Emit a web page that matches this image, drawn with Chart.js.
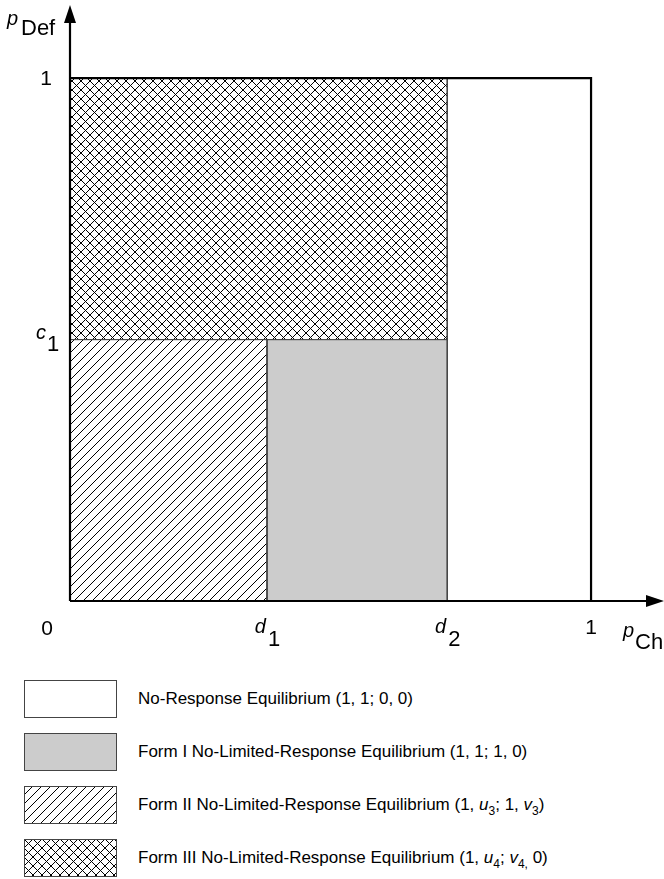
<!DOCTYPE html>
<html>
<head>
<title>Equilibrium regions</title>
<script src="https://cdn.jsdelivr.net/npm/chart.js"></script>
<style>
    body { margin: 0; background: #fff; font-family: "Liberation Sans", Arial, sans-serif; }
    #wrap { position: relative; width: 664px; height: 879px; }
    #legend .item { position: absolute; left: 24px; width: 600px; height: 38px; }
    #legend canvas { position: absolute; left: 0; top: 0; }
    #legend .text { position: absolute; left: 114px; top: 0; line-height: 38px; font-size: 17px; white-space: nowrap; color: #000; }
    #legend sub { font-size: 12px; vertical-align: -5px; line-height: 0; }
</style>
</head>
<body>
<div id="wrap">
    <canvas id="regionChart" width="664" height="660"></canvas>
    <div id="legend"></div>
</div>
<script>
    // boundaries
    const d1 = 0.378, d2 = 0.724, c1 = 0.5;
    const axisMax = 1.14;

    // regions: white, gray, hatched, cross-hatched
    const regionNames = ['No-Response', 'Form I', 'Form II', 'Form III'];
    const regionX0 = [0, d1, 0, 0];
    const regionX1 = [1, d2, d1, d2];
    const regionY0 = [0, 0, 0, c1];
    const regionY1 = [1, c1, c1, 1];
    const legendLabels = [
        'No-Response Equilibrium (1, 1; 0, 0)',
        'Form I No-Limited-Response Equilibrium (1, 1; 1, 0)',
        'Form II No-Limited-Response Equilibrium (1, <i>u</i><sub>3</sub>; 1, <i>v</i><sub>3</sub>)',
        'Form III No-Limited-Response Equilibrium (1, <i>u</i><sub>4</sub>; <i>v</i><sub>4,</sub> 0)'
    ];

    // tick labels
    const xTickValues = [d1, d2, 1];
    const xTickText = ['d', 'd', '1'];
    const xTickSub = ['1', '2', ''];
    const yTickValues = [c1, 1];
    const yTickText = ['c', '1'];
    const yTickSub = ['1', ''];
    const originLabel = '0';
    const xTitle = ['p', 'Ch'];
    const yTitle = ['p', 'Def'];

    const MAIN_FONT = '21px "Liberation Sans"';
    const ITALIC_FONT = 'italic 20px "Liberation Sans"';
    const SUB_FONT = '22px "Liberation Sans"';

    function makePattern(kind) {
        const s = 9;
        const c = document.createElement('canvas');
        c.width = s; c.height = s;
        const g = c.getContext('2d');
        g.fillStyle = '#fff';
        g.fillRect(0, 0, s, s);
        g.strokeStyle = '#000';
        g.lineWidth = 1;
        g.beginPath();
        // "/" lines
        g.moveTo(-1, s + 1); g.lineTo(s + 1, -1);
        g.moveTo(-1, 1); g.lineTo(1, -1);
        g.moveTo(s - 1, s + 1); g.lineTo(s + 1, s - 1);
        if (kind === 'cross') {
            g.moveTo(-1, -1); g.lineTo(s + 1, s + 1);
            g.moveTo(s - 1, -1); g.lineTo(s + 1, 1);
            g.moveTo(-1, s - 1); g.lineTo(1, s + 1);
        }
        g.stroke();
        return g.createPattern(c, 'repeat');
    }

    const ctx = document.getElementById('regionChart').getContext('2d');
    const regionFills = ['#ffffff', '#cccccc', makePattern('hatch'), makePattern('cross')];

    function rect(i) {
        return [
            { x: regionX0[i], y: regionY0[i] },
            { x: regionX0[i], y: regionY1[i] },
            { x: regionX1[i], y: regionY1[i] },
            { x: regionX1[i], y: regionY0[i] },
            { x: regionX0[i], y: regionY0[i] }
        ];
    }

    // first dataset is drawn on top
    const datasets = [{
        label: 'frame',
        data: [{ x: 0, y: regionY1[0] }, { x: regionX1[0], y: regionY1[0] }, { x: regionX1[0], y: 0 }],
        borderColor: '#000',
        borderWidth: 2.2,
        fill: false
    }];
    [3, 2, 1, 0].forEach(i => {
        datasets.push({
            label: regionNames[i],
            data: rect(i),
            backgroundColor: regionFills[i],
            borderColor: i === 0 ? 'rgba(0,0,0,0)' : '#444',
            borderWidth: 1,
            fill: 'shape'
        });
    });

    function subLabel(g, main, sub, x, y, align, subX, subDy) {
        g.font = ITALIC_FONT;
        g.textAlign = align;
        g.fillText(main, x, y);
        g.font = SUB_FONT;
        g.textAlign = 'left';
        g.fillText(sub, subX, y + subDy);
    }

    const axesPlugin = {
        id: 'axes',
        afterDraw(chart) {
            const g = chart.ctx;
            const xs = chart.scales.x, ys = chart.scales.y;
            const ox = xs.getPixelForValue(0), oy = ys.getPixelForValue(0);
            const xe = xs.getPixelForValue(axisMax), ye = ys.getPixelForValue(axisMax);
            g.save();
            g.strokeStyle = '#000';
            g.fillStyle = '#000';
            g.lineWidth = 2.2;
            g.beginPath();
            g.moveTo(ox, oy); g.lineTo(xe - 16, oy);
            g.moveTo(ox, oy); g.lineTo(ox, ye + 16);
            g.stroke();
            // arrow heads
            g.beginPath();
            g.moveTo(xe, oy); g.lineTo(xe - 18, oy - 6); g.lineTo(xe - 18, oy + 6); g.closePath();
            g.moveTo(ox, ye); g.lineTo(ox - 6, ye + 18); g.lineTo(ox + 6, ye + 18); g.closePath();
            g.fill();

            g.textBaseline = 'alphabetic';
            // x ticks
            xTickValues.forEach((v, i) => {
                const px = xs.getPixelForValue(v);
                if (xTickSub[i]) {
                    subLabel(g, xTickText[i], xTickSub[i], px - 1, oy + 32, 'right', px + 1, 13);
                } else {
                    g.font = MAIN_FONT;
                    g.textAlign = 'center';
                    g.fillText(xTickText[i], px, oy + 33);
                }
            });
            // y ticks
            yTickValues.forEach((v, i) => {
                const py = ys.getPixelForValue(v);
                if (yTickSub[i]) {
                    subLabel(g, yTickText[i], yTickSub[i], ox - 24, py - 1, 'right', ox - 23, 12);
                } else {
                    g.font = MAIN_FONT;
                    g.textAlign = 'center';
                    g.fillText(yTickText[i], ox - 24, py + 7);
                }
            });
            g.font = MAIN_FONT;
            g.textAlign = 'center';
            g.fillText(originLabel, ox - 23, oy + 34);

            // axis titles
            const x1 = xs.getPixelForValue(1);
            subLabel(g, xTitle[0], xTitle[1], x1 + 32, oy + 36, 'left', x1 + 44, 12);
            subLabel(g, yTitle[0], yTitle[1], ox - 63, ye + 20, 'left', ox - 49, 10);
            g.restore();
        }
    };

    const chart = new Chart(ctx, {
        type: 'line',
        data: { datasets: datasets },
        options: {
            responsive: false,
            animation: false,
            devicePixelRatio: 1,
            layout: { padding: { left: 70, right: 0, top: 5, bottom: 59 } },
            elements: { point: { radius: 0 }, line: { tension: 0 } },
            scales: {
                x: { type: 'linear', min: 0, max: axisMax, display: false },
                y: { type: 'linear', min: 0, max: axisMax, display: false }
            },
            plugins: { legend: { display: false }, tooltip: { enabled: false } }
        },
        plugins: [axesPlugin]
    });

    // legend below the chart, swatches use the same fills
    const legendTops = [680, 733, 786, 839];
    const legendEl = document.getElementById('legend');
    regionNames.forEach((name, i) => {
        const item = document.createElement('div');
        item.className = 'item';
        item.style.top = legendTops[i] + 'px';
        const sw = document.createElement('canvas');
        sw.width = 93; sw.height = 38;
        const g = sw.getContext('2d');
        g.fillStyle = regionFills[i];
        g.fillRect(0, 0, 93, 38);
        g.strokeStyle = '#444';
        g.lineWidth = 1;
        g.strokeRect(0.5, 0.5, 92, 37);
        const txt = document.createElement('div');
        txt.className = 'text';
        txt.innerHTML = legendLabels[i];
        item.appendChild(sw);
        item.appendChild(txt);
        legendEl.appendChild(item);
    });
</script>
</body>
</html>
